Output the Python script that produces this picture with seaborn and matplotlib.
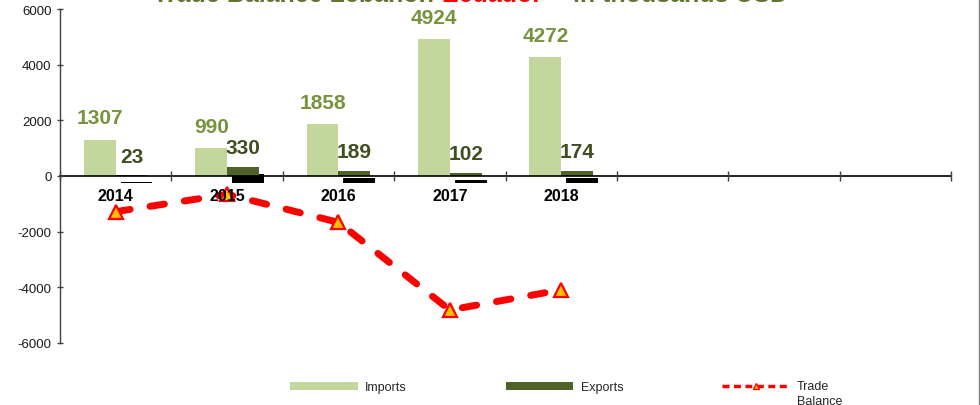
import numpy as np
import pandas as pd
import matplotlib
matplotlib.use('Agg')
import matplotlib.pyplot as plt
import seaborn as sns
from matplotlib import patheffects as pe
from matplotlib.lines import Line2D
from matplotlib.patches import Patch
from matplotlib.ticker import FixedLocator
from matplotlib.transforms import ScaledTranslation

# ---- data ----
years = ['2014', '2015', '2016', '2017', '2018']
imports = [1307, 990, 1858, 4924, 4272]
exports = [23, 330, 189, 102, 174]
balance = [-1284, -660, -1669, -4822, -4098]
n_slots = 8  # category slots on the axis (last three are empty)
yticks = [-6000, -4000, -2000, 0, 2000, 4000, 6000]
series_names = ['Imports', 'Exports', 'Trade\nBalance']

# ---- style ----
IMP_C = '#C3D69B'
EXP_C = '#4F6228'
IMP_LBL = '#77933C'
EXP_LBL = '#3F4F20'
TITLE_G = '#5F7530'

sns.set_theme(style='white')
plt.rcParams['font.family'] = ['Liberation Sans', 'DejaVu Sans']
plt.rcParams['axes.unicode_minus'] = False

fig = plt.figure(figsize=(9.8, 4.06), dpi=100)
ax = fig.add_axes([60 / 980, 1 - 343.7 / 406, (951 - 60) / 980, (343.7 - 10.3) / 406])

df = pd.DataFrame({
    'Year': years * 2,
    'Value': imports + exports,
    'Series': [series_names[0]] * len(years) + [series_names[1]] * len(years),
})
sns.barplot(data=df, x='Year', y='Value', hue='Series', order=years,
            hue_order=series_names[:2], palette=[IMP_C, EXP_C], saturation=1,
            width=0.57, linewidth=0, errorbar=None, ax=ax, legend=False)

# drop shadow on export bars
for bar in ax.containers[1]:
    bar.set_path_effects([pe.SimplePatchShadow(offset=(3.6, -5), shadow_rgbFace='black', alpha=1),
                          pe.Normal()])

ax.bar_label(ax.containers[0], fmt='%d', padding=9, color=IMP_LBL,
             fontsize=15, fontweight='bold')
ax.bar_label(ax.containers[1], fmt='%d', padding=7, color=EXP_LBL,
             fontsize=15, fontweight='bold')

# trade balance line
sns.pointplot(x=years, y=balance, order=years, color='red', errorbar=None, ax=ax)
ln = ax.lines[-1]
ln.set_linewidth(5)
ln.set_dashes((2.1, 2.9))
ln.set_dash_capstyle('round')
ln.set_marker('^')
ln.set_markersize(10)
ln.set_markerfacecolor('#FFC000')
ln.set_markeredgecolor('red')
ln.set_markeredgewidth(1.6)
ln.set_zorder(2)

# ---- axes ----
ax.set_axisbelow(False)
for s in ['top', 'right']:
    ax.spines[s].set_visible(False)
ax.spines['bottom'].set_position(('data', 0))
ax.spines['bottom'].set_color('black')
ax.spines['bottom'].set_linewidth(1.2)
ax.spines['left'].set_color('#404040')
ax.spines['left'].set_linewidth(1)

ax.set_ylim(-6000, 6000)
ax.set_yticks(yticks)
ax.set_xlim(-0.5, n_slots - 0.5)
ax.set_xticks(range(len(years)))
ax.set_xticklabels(years, fontweight='bold', fontsize=11.5, color='black')
ax.xaxis.set_minor_locator(FixedLocator(np.arange(-0.5, n_slots, 1)))
ax.set_xlabel('')
ax.set_ylabel('')
ax.tick_params(axis='x', which='major', length=0, pad=9, bottom=True)
ax.tick_params(axis='x', which='minor', direction='inout', length=7.2, width=1,
               color='#404040', bottom=True)
ax.tick_params(axis='y', direction='inout', length=4.3, width=1, color='#404040',
               labelsize=9.5, labelcolor='#1a1a1a', pad=4, left=True)

# ---- title (cut off at the top like the reference) ----
t1 = fig.text(153 / 980, 1 - 2 / 406, 'Trade Balance Lebanon-', color=TITLE_G,
              fontsize=18, fontweight='bold', ha='left', va='baseline')
t2 = ax.annotate('Ecuador*  ', xy=(1, 0), xycoords=t1, va='bottom', ha='left',
                 color='red', fontsize=18, fontweight='bold', annotation_clip=False)
t3 = ax.annotate(' in thousands USD', xy=(1, 0), xycoords=t2, va='bottom', ha='left',
                 color=TITLE_G, fontsize=18, fontweight='bold', annotation_clip=False)

# ---- legend ----
handles = [Patch(facecolor=IMP_C, edgecolor='none'),
           Patch(facecolor=EXP_C, edgecolor='none'),
           Line2D([], [], color='red', lw=2.5, ls=(0, (2, 1.3)), marker='^', ms=5,
                  mfc='#FFC000', mec='red', mew=1)]
leg = fig.legend(handles=handles, labels=series_names, ncol=3, loc='center',
                 bbox_to_anchor=(0.578, 0.047), frameon=False, fontsize=9,
                 handlelength=5.4, handleheight=0.6, handletextpad=0.6,
                 columnspacing=7.9, labelcolor='#262626')
tb = leg.get_texts()[2]
tb.set_linespacing(1.25)
tb.set_transform(tb.get_transform() + ScaledTranslation(0, -7.5 / 100, fig.dpi_scale_trans))

# right border line
fig.add_artist(Line2D([978.5 / 980] * 2, [0, 1], transform=fig.transFigure,
                      color='#808080', lw=1))

fig.savefig('out.png', dpi=100)
